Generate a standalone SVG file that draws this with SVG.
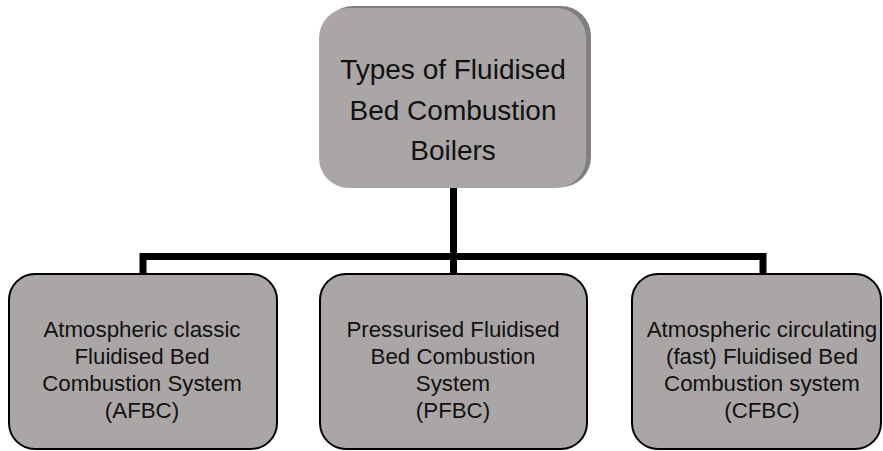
<svg xmlns="http://www.w3.org/2000/svg" width="883" height="451" viewBox="0 0 883 451">
<style>
.t{font-family:"Liberation Sans",Arial,sans-serif;fill:#111;text-anchor:middle}
.big{font-size:28px}
.sm{font-size:22.3px}
.box{fill:#aaa6a6;stroke:#000;stroke-width:2}
.conn{fill:none;stroke:#000;stroke-width:7}
</style>
<rect x="0" y="0" width="883" height="451" fill="#fff"/>
<g id="connectors">
<line class="conn" x1="453.5" y1="187" x2="453.5" y2="274"/>
<polyline class="conn" points="143,274 143,256.5 763,256.5 763,274"/>
</g>
<g id="root">
<rect x="323" y="6" width="268" height="181" rx="30" fill="#7f7f7f"/>
<rect x="319" y="8" width="267" height="180" rx="30" fill="#aaa6a6"/>
<text class="t big" x="453" y="79">Types of Fluidised</text>
<text class="t big" x="453" y="120">Bed Combustion</text>
<text class="t big" x="453" y="160">Boilers</text>
</g>
<g id="afbc">
<rect class="box" x="9" y="274" width="268" height="175" rx="26"/>
<text class="t sm" x="142" y="337">Atmospheric classic</text>
<text class="t sm" x="142" y="364">Fluidised Bed</text>
<text class="t sm" x="142" y="391">Combustion System</text>
<text class="t sm" x="142" y="418">(AFBC)</text>
</g>
<g id="pfbc">
<rect class="box" x="320" y="274" width="267" height="175" rx="26"/>
<text class="t sm" x="453" y="337">Pressurised Fluidised</text>
<text class="t sm" x="453" y="364">Bed Combustion</text>
<text class="t sm" x="453" y="391">System</text>
<text class="t sm" x="453" y="418">(PFBC)</text>
</g>
<g id="cfbc">
<rect class="box" x="632" y="274" width="249" height="175" rx="26"/>
<text class="t sm" x="762" y="337">Atmospheric circulating</text>
<text class="t sm" x="762" y="364">(fast) Fluidised Bed</text>
<text class="t sm" x="762" y="391">Combustion system</text>
<text class="t sm" x="762" y="418">(CFBC)</text>
</g>
</svg>
